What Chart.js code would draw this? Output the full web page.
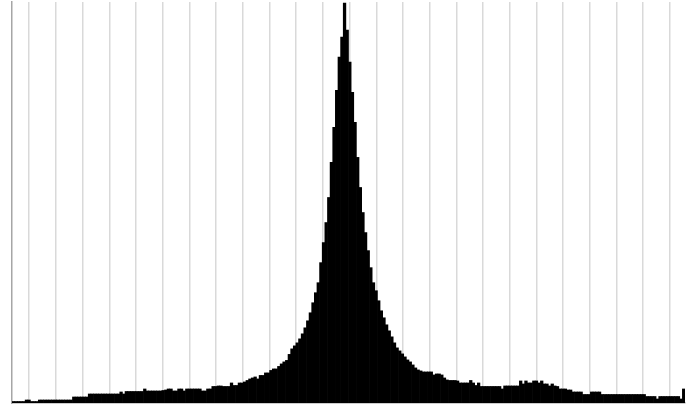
<!DOCTYPE html>
<html>
<head>
<meta charset="utf-8">
<script src="https://cdn.jsdelivr.net/npm/chart.js@4.4.1/dist/chart.umd.min.js"></script>
<style>
    html, body { margin: 0; padding: 0; background: #fff; }
    #wrap { width: 696px; height: 406px; }
</style>
</head>
<body>
<div id="wrap"><canvas id="histChart"></canvas></div>
<script>
// Níveis do histograma (0..255)
const levels = Array.from({ length: 256 }, (_, i) => i);

// Contagem por nível (16 níveis por linha)
const counts = [
    1.5, 1.5, 1.5, 1.5, 1.5, 3, 3, 1.5, 1.5, 1.5, 3, 3, 3, 3, 3, 3,
    3, 3, 3, 3, 3, 3, 3, 6, 6, 6, 6, 6, 6, 9, 9, 9,
    9, 9, 9, 9, 9, 9, 9, 9, 9, 11, 9, 11.5, 11.5, 11.5, 11.5, 11.5,
    11.5, 11.5, 14, 12, 12, 12, 12, 12, 12, 12.5, 13, 14, 14, 12, 12, 14,
    14, 12, 14, 14, 14, 14, 14, 14, 12, 12, 14, 14, 16.5, 16.5, 17, 17,
    16.5, 16.5, 16.5, 20, 17.5, 17.5, 20, 20, 21, 22.5, 24, 25, 26, 24, 27.5, 27.5,
    30, 30, 32.5, 34, 34, 36.5, 39, 41, 42.5, 48.5, 54, 57, 60, 64, 69, 75,
    82, 90, 100, 110, 120, 140, 160, 180, 205, 240, 275, 312, 345, 365, 399, 372,
    340, 310, 280, 245, 215, 190, 170, 152, 135, 120, 112, 102, 92, 85, 78, 72,
    66, 60, 55, 52, 49, 46, 43, 41, 38, 35, 33, 32, 31, 31, 31, 31,
    28, 29, 29, 28, 25, 23, 22.5, 22.5, 22.5, 22, 20, 20, 20, 20, 22.5, 20,
    17.5, 20, 16.5, 16.5, 16.5, 16.5, 16.5, 16.5, 16.5, 16.5, 14, 17, 17, 17, 17, 17,
    17, 22, 19, 22, 20, 20, 22, 22, 20, 22, 19, 19, 17, 19, 17, 16.5,
    14, 14, 14, 13, 13, 11, 11, 11, 11, 8.5, 8.5, 8.5, 11, 11, 11, 11,
    8.5, 8.5, 8.5, 8.5, 8.5, 8.5, 8.5, 8.5, 8.5, 8.5, 8.5, 8.5, 8.5, 8.5, 8.5, 8.5,
    8.5, 6.5, 6.5, 6.5, 6.5, 4, 6.5, 6.5, 6.5, 6.5, 6.5, 6.5, 6.5, 6.5, 4, 14
];

// Posições das linhas verticais da grade
const gridX = [
    6.05, 16.2, 26.36, 36.5, 46.67, 56.8, 66.98, 77.1, 87.29, 97.4,
    107.6, 117.75, 127.9, 138.1, 148.2, 158.4, 168.5, 178.7, 188.8, 199.0,
    209.1, 219.3, 229.5, 239.6, 249.8
];

const ctx = document.getElementById("histChart").getContext("2d");
new Chart(ctx, {
    type: "bar",
    data: {
        labels: levels,
        datasets: [{
            data: counts,
            backgroundColor: "#000000",
            borderWidth: 0,
            barPercentage: 1,
            categoryPercentage: 1
        }]
    },
    options: {
        responsive: true,
        maintainAspectRatio: false,
        animation: false,
        layout: { padding: { left: 12, top: 2, right: 11, bottom: 3 } },
        plugins: {
            legend: { display: false },
            tooltip: { enabled: false }
        },
        scales: {
            x: {
                type: "linear",
                min: -0.5,
                max: 255.5,
                offset: false,
                afterBuildTicks: scale => {
                    scale.ticks = gridX.map(v => ({ value: v }));
                },
                ticks: { display: false },
                grid: { color: "#d9d9d9", lineWidth: 1.5, drawTicks: false, offset: false },
                border: { color: "#9a9a9a", width: 1.5 }
            },
            y: {
                min: 0,
                max: 400,
                ticks: { display: false },
                grid: { display: false, drawTicks: false },
                border: { color: "#a6a6a6", width: 1.5 }
            }
        }
    }
});
</script>
</body>
</html>
